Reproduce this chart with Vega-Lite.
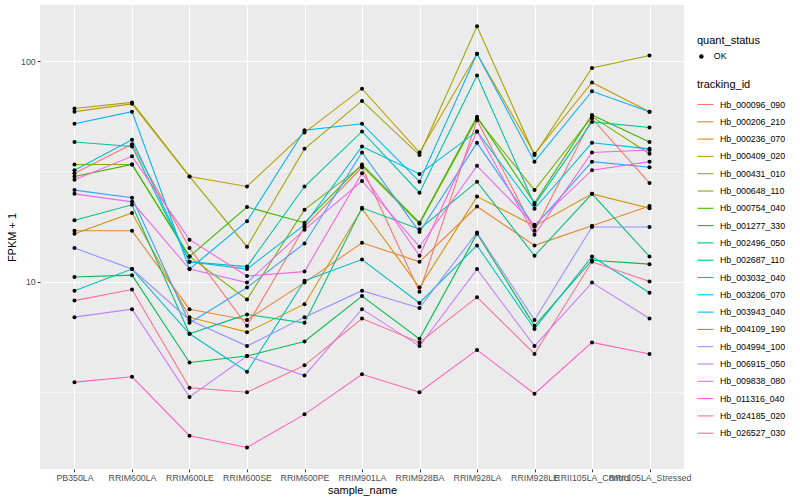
{
  "$schema": "https://vega.github.io/schema/vega-lite/v6.json",
  "width": 644,
  "height": 464,
  "autosize": {"type": "none"},
  "padding": {"left": 40, "top": 5, "right": 116, "bottom": 31},
  "background": "white",
  "config": {
    "font": "Liberation Sans",
    "view": {"fill": "#EBEBEB", "stroke": null},
    "axis": {
      "domain": false,
      "gridColor": "white",
      "tickColor": "#333333",
      "tickSize": 2.75,
      "labelFontSize": 8.8,
      "labelColor": "#4D4D4D",
      "titleFontSize": 11,
      "titleFontWeight": "normal",
      "titleColor": "black"
    },
    "legend": {
      "titleFontSize": 11,
      "titleFontWeight": "normal",
      "titleColor": "black",
      "labelFontSize": 8.8,
      "labelColor": "black"
    }
  },
  "data": {"values": [
{"tracking_id":"Hb_000096_090","sample_name":"PB350LA","FPKM":31,"quant_status":"OK"},
{"tracking_id":"Hb_000096_090","sample_name":"RRIM600LA","FPKM":42,"quant_status":"OK"},
{"tracking_id":"Hb_000096_090","sample_name":"RRIM600LE","FPKM":14.2,"quant_status":"OK"},
{"tracking_id":"Hb_000096_090","sample_name":"RRIM600SE","FPKM":6.3,"quant_status":"OK"},
{"tracking_id":"Hb_000096_090","sample_name":"RRIM600PE","FPKM":17.7,"quant_status":"OK"},
{"tracking_id":"Hb_000096_090","sample_name":"RRIM901LA","FPKM":33,"quant_status":"OK"},
{"tracking_id":"Hb_000096_090","sample_name":"RRIM928BA","FPKM":9.0,"quant_status":"OK"},
{"tracking_id":"Hb_000096_090","sample_name":"RRIM928LA","FPKM":54,"quant_status":"OK"},
{"tracking_id":"Hb_000096_090","sample_name":"RRIM928LE","FPKM":17,"quant_status":"OK"},
{"tracking_id":"Hb_000096_090","sample_name":"RRII105LA_Control","FPKM":55,"quant_status":"OK"},
{"tracking_id":"Hb_000096_090","sample_name":"RRII105LA_Stressed","FPKM":28,"quant_status":"OK"},
{"tracking_id":"Hb_000206_210","sample_name":"PB350LA","FPKM":17,"quant_status":"OK"},
{"tracking_id":"Hb_000206_210","sample_name":"RRIM600LA","FPKM":17,"quant_status":"OK"},
{"tracking_id":"Hb_000206_210","sample_name":"RRIM600LE","FPKM":7.5,"quant_status":"OK"},
{"tracking_id":"Hb_000206_210","sample_name":"RRIM600SE","FPKM":6.7,"quant_status":"OK"},
{"tracking_id":"Hb_000206_210","sample_name":"RRIM600PE","FPKM":9.9,"quant_status":"OK"},
{"tracking_id":"Hb_000206_210","sample_name":"RRIM901LA","FPKM":15,"quant_status":"OK"},
{"tracking_id":"Hb_000206_210","sample_name":"RRIM928BA","FPKM":12.3,"quant_status":"OK"},
{"tracking_id":"Hb_000206_210","sample_name":"RRIM928LA","FPKM":21.9,"quant_status":"OK"},
{"tracking_id":"Hb_000206_210","sample_name":"RRIM928LE","FPKM":14.6,"quant_status":"OK"},
{"tracking_id":"Hb_000206_210","sample_name":"RRII105LA_Control","FPKM":17.9,"quant_status":"OK"},
{"tracking_id":"Hb_000206_210","sample_name":"RRII105LA_Stressed","FPKM":22,"quant_status":"OK"},
{"tracking_id":"Hb_000236_070","sample_name":"PB350LA","FPKM":16.5,"quant_status":"OK"},
{"tracking_id":"Hb_000236_070","sample_name":"RRIM600LA","FPKM":20.5,"quant_status":"OK"},
{"tracking_id":"Hb_000236_070","sample_name":"RRIM600LE","FPKM":6.9,"quant_status":"OK"},
{"tracking_id":"Hb_000236_070","sample_name":"RRIM600SE","FPKM":5.9,"quant_status":"OK"},
{"tracking_id":"Hb_000236_070","sample_name":"RRIM600PE","FPKM":7.9,"quant_status":"OK"},
{"tracking_id":"Hb_000236_070","sample_name":"RRIM901LA","FPKM":21.4,"quant_status":"OK"},
{"tracking_id":"Hb_000236_070","sample_name":"RRIM928BA","FPKM":9.4,"quant_status":"OK"},
{"tracking_id":"Hb_000236_070","sample_name":"RRIM928LA","FPKM":24.3,"quant_status":"OK"},
{"tracking_id":"Hb_000236_070","sample_name":"RRIM928LE","FPKM":17.9,"quant_status":"OK"},
{"tracking_id":"Hb_000236_070","sample_name":"RRII105LA_Control","FPKM":25,"quant_status":"OK"},
{"tracking_id":"Hb_000236_070","sample_name":"RRII105LA_Stressed","FPKM":21.5,"quant_status":"OK"},
{"tracking_id":"Hb_000409_020","sample_name":"PB350LA","FPKM":59,"quant_status":"OK"},
{"tracking_id":"Hb_000409_020","sample_name":"RRIM600LA","FPKM":64,"quant_status":"OK"},
{"tracking_id":"Hb_000409_020","sample_name":"RRIM600LE","FPKM":30,"quant_status":"OK"},
{"tracking_id":"Hb_000409_020","sample_name":"RRIM600SE","FPKM":27,"quant_status":"OK"},
{"tracking_id":"Hb_000409_020","sample_name":"RRIM600PE","FPKM":47.4,"quant_status":"OK"},
{"tracking_id":"Hb_000409_020","sample_name":"RRIM901LA","FPKM":75,"quant_status":"OK"},
{"tracking_id":"Hb_000409_020","sample_name":"RRIM928BA","FPKM":38.5,"quant_status":"OK"},
{"tracking_id":"Hb_000409_020","sample_name":"RRIM928LA","FPKM":108,"quant_status":"OK"},
{"tracking_id":"Hb_000409_020","sample_name":"RRIM928LE","FPKM":38,"quant_status":"OK"},
{"tracking_id":"Hb_000409_020","sample_name":"RRII105LA_Control","FPKM":80,"quant_status":"OK"},
{"tracking_id":"Hb_000409_020","sample_name":"RRII105LA_Stressed","FPKM":59,"quant_status":"OK"},
{"tracking_id":"Hb_000431_010","sample_name":"PB350LA","FPKM":61,"quant_status":"OK"},
{"tracking_id":"Hb_000431_010","sample_name":"RRIM600LA","FPKM":65,"quant_status":"OK"},
{"tracking_id":"Hb_000431_010","sample_name":"RRIM600LE","FPKM":30,"quant_status":"OK"},
{"tracking_id":"Hb_000431_010","sample_name":"RRIM600SE","FPKM":14.4,"quant_status":"OK"},
{"tracking_id":"Hb_000431_010","sample_name":"RRIM600PE","FPKM":40,"quant_status":"OK"},
{"tracking_id":"Hb_000431_010","sample_name":"RRIM901LA","FPKM":66,"quant_status":"OK"},
{"tracking_id":"Hb_000431_010","sample_name":"RRIM928BA","FPKM":37.5,"quant_status":"OK"},
{"tracking_id":"Hb_000431_010","sample_name":"RRIM928LA","FPKM":144,"quant_status":"OK"},
{"tracking_id":"Hb_000431_010","sample_name":"RRIM928LE","FPKM":37.5,"quant_status":"OK"},
{"tracking_id":"Hb_000431_010","sample_name":"RRII105LA_Control","FPKM":93,"quant_status":"OK"},
{"tracking_id":"Hb_000431_010","sample_name":"RRII105LA_Stressed","FPKM":106,"quant_status":"OK"},
{"tracking_id":"Hb_000648_110","sample_name":"PB350LA","FPKM":34,"quant_status":"OK"},
{"tracking_id":"Hb_000648_110","sample_name":"RRIM600LA","FPKM":34,"quant_status":"OK"},
{"tracking_id":"Hb_000648_110","sample_name":"RRIM600LE","FPKM":13,"quant_status":"OK"},
{"tracking_id":"Hb_000648_110","sample_name":"RRIM600SE","FPKM":8.3,"quant_status":"OK"},
{"tracking_id":"Hb_000648_110","sample_name":"RRIM600PE","FPKM":21.2,"quant_status":"OK"},
{"tracking_id":"Hb_000648_110","sample_name":"RRIM901LA","FPKM":33.5,"quant_status":"OK"},
{"tracking_id":"Hb_000648_110","sample_name":"RRIM928BA","FPKM":18.3,"quant_status":"OK"},
{"tracking_id":"Hb_000648_110","sample_name":"RRIM928LA","FPKM":55,"quant_status":"OK"},
{"tracking_id":"Hb_000648_110","sample_name":"RRIM928LE","FPKM":26,"quant_status":"OK"},
{"tracking_id":"Hb_000648_110","sample_name":"RRII105LA_Control","FPKM":56,"quant_status":"OK"},
{"tracking_id":"Hb_000648_110","sample_name":"RRII105LA_Stressed","FPKM":38,"quant_status":"OK"},
{"tracking_id":"Hb_000754_040","sample_name":"PB350LA","FPKM":30,"quant_status":"OK"},
{"tracking_id":"Hb_000754_040","sample_name":"RRIM600LA","FPKM":34,"quant_status":"OK"},
{"tracking_id":"Hb_000754_040","sample_name":"RRIM600LE","FPKM":13,"quant_status":"OK"},
{"tracking_id":"Hb_000754_040","sample_name":"RRIM600SE","FPKM":21.8,"quant_status":"OK"},
{"tracking_id":"Hb_000754_040","sample_name":"RRIM600PE","FPKM":18.5,"quant_status":"OK"},
{"tracking_id":"Hb_000754_040","sample_name":"RRIM901LA","FPKM":34,"quant_status":"OK"},
{"tracking_id":"Hb_000754_040","sample_name":"RRIM928BA","FPKM":18.5,"quant_status":"OK"},
{"tracking_id":"Hb_000754_040","sample_name":"RRIM928LA","FPKM":56,"quant_status":"OK"},
{"tracking_id":"Hb_000754_040","sample_name":"RRIM928LE","FPKM":22.7,"quant_status":"OK"},
{"tracking_id":"Hb_000754_040","sample_name":"RRII105LA_Control","FPKM":57,"quant_status":"OK"},
{"tracking_id":"Hb_000754_040","sample_name":"RRII105LA_Stressed","FPKM":43,"quant_status":"OK"},
{"tracking_id":"Hb_001277_330","sample_name":"PB350LA","FPKM":10.5,"quant_status":"OK"},
{"tracking_id":"Hb_001277_330","sample_name":"RRIM600LA","FPKM":10.7,"quant_status":"OK"},
{"tracking_id":"Hb_001277_330","sample_name":"RRIM600LE","FPKM":4.3,"quant_status":"OK"},
{"tracking_id":"Hb_001277_330","sample_name":"RRIM600SE","FPKM":4.6,"quant_status":"OK"},
{"tracking_id":"Hb_001277_330","sample_name":"RRIM600PE","FPKM":5.35,"quant_status":"OK"},
{"tracking_id":"Hb_001277_330","sample_name":"RRIM901LA","FPKM":8.6,"quant_status":"OK"},
{"tracking_id":"Hb_001277_330","sample_name":"RRIM928BA","FPKM":5.5,"quant_status":"OK"},
{"tracking_id":"Hb_001277_330","sample_name":"RRIM928LA","FPKM":16.5,"quant_status":"OK"},
{"tracking_id":"Hb_001277_330","sample_name":"RRIM928LE","FPKM":6.3,"quant_status":"OK"},
{"tracking_id":"Hb_001277_330","sample_name":"RRII105LA_Control","FPKM":12.5,"quant_status":"OK"},
{"tracking_id":"Hb_001277_330","sample_name":"RRII105LA_Stressed","FPKM":12,"quant_status":"OK"},
{"tracking_id":"Hb_002496_050","sample_name":"PB350LA","FPKM":19,"quant_status":"OK"},
{"tracking_id":"Hb_002496_050","sample_name":"RRIM600LA","FPKM":22.3,"quant_status":"OK"},
{"tracking_id":"Hb_002496_050","sample_name":"RRIM600LE","FPKM":5.8,"quant_status":"OK"},
{"tracking_id":"Hb_002496_050","sample_name":"RRIM600SE","FPKM":7.1,"quant_status":"OK"},
{"tracking_id":"Hb_002496_050","sample_name":"RRIM600PE","FPKM":6.5,"quant_status":"OK"},
{"tracking_id":"Hb_002496_050","sample_name":"RRIM901LA","FPKM":21.6,"quant_status":"OK"},
{"tracking_id":"Hb_002496_050","sample_name":"RRIM928BA","FPKM":17.3,"quant_status":"OK"},
{"tracking_id":"Hb_002496_050","sample_name":"RRIM928LA","FPKM":28.4,"quant_status":"OK"},
{"tracking_id":"Hb_002496_050","sample_name":"RRIM928LE","FPKM":13.1,"quant_status":"OK"},
{"tracking_id":"Hb_002496_050","sample_name":"RRII105LA_Control","FPKM":25,"quant_status":"OK"},
{"tracking_id":"Hb_002496_050","sample_name":"RRII105LA_Stressed","FPKM":13,"quant_status":"OK"},
{"tracking_id":"Hb_002687_110","sample_name":"PB350LA","FPKM":43,"quant_status":"OK"},
{"tracking_id":"Hb_002687_110","sample_name":"RRIM600LA","FPKM":41,"quant_status":"OK"},
{"tracking_id":"Hb_002687_110","sample_name":"RRIM600LE","FPKM":12.3,"quant_status":"OK"},
{"tracking_id":"Hb_002687_110","sample_name":"RRIM600SE","FPKM":11.7,"quant_status":"OK"},
{"tracking_id":"Hb_002687_110","sample_name":"RRIM600PE","FPKM":27,"quant_status":"OK"},
{"tracking_id":"Hb_002687_110","sample_name":"RRIM901LA","FPKM":48,"quant_status":"OK"},
{"tracking_id":"Hb_002687_110","sample_name":"RRIM928BA","FPKM":25.3,"quant_status":"OK"},
{"tracking_id":"Hb_002687_110","sample_name":"RRIM928LA","FPKM":86,"quant_status":"OK"},
{"tracking_id":"Hb_002687_110","sample_name":"RRIM928LE","FPKM":22.3,"quant_status":"OK"},
{"tracking_id":"Hb_002687_110","sample_name":"RRII105LA_Control","FPKM":53,"quant_status":"OK"},
{"tracking_id":"Hb_002687_110","sample_name":"RRII105LA_Stressed","FPKM":50,"quant_status":"OK"},
{"tracking_id":"Hb_003032_040","sample_name":"PB350LA","FPKM":9.1,"quant_status":"OK"},
{"tracking_id":"Hb_003032_040","sample_name":"RRIM600LA","FPKM":11.4,"quant_status":"OK"},
{"tracking_id":"Hb_003032_040","sample_name":"RRIM600LE","FPKM":5.8,"quant_status":"OK"},
{"tracking_id":"Hb_003032_040","sample_name":"RRIM600SE","FPKM":3.9,"quant_status":"OK"},
{"tracking_id":"Hb_003032_040","sample_name":"RRIM600PE","FPKM":10.1,"quant_status":"OK"},
{"tracking_id":"Hb_003032_040","sample_name":"RRIM901LA","FPKM":12.6,"quant_status":"OK"},
{"tracking_id":"Hb_003032_040","sample_name":"RRIM928BA","FPKM":8.0,"quant_status":"OK"},
{"tracking_id":"Hb_003032_040","sample_name":"RRIM928LA","FPKM":14.6,"quant_status":"OK"},
{"tracking_id":"Hb_003032_040","sample_name":"RRIM928LE","FPKM":6.1,"quant_status":"OK"},
{"tracking_id":"Hb_003032_040","sample_name":"RRII105LA_Control","FPKM":13,"quant_status":"OK"},
{"tracking_id":"Hb_003032_040","sample_name":"RRII105LA_Stressed","FPKM":8.9,"quant_status":"OK"},
{"tracking_id":"Hb_003206_070","sample_name":"PB350LA","FPKM":32,"quant_status":"OK"},
{"tracking_id":"Hb_003206_070","sample_name":"RRIM600LA","FPKM":44,"quant_status":"OK"},
{"tracking_id":"Hb_003206_070","sample_name":"RRIM600LE","FPKM":12.3,"quant_status":"OK"},
{"tracking_id":"Hb_003206_070","sample_name":"RRIM600SE","FPKM":11.4,"quant_status":"OK"},
{"tracking_id":"Hb_003206_070","sample_name":"RRIM600PE","FPKM":18.1,"quant_status":"OK"},
{"tracking_id":"Hb_003206_070","sample_name":"RRIM901LA","FPKM":41,"quant_status":"OK"},
{"tracking_id":"Hb_003206_070","sample_name":"RRIM928BA","FPKM":30.8,"quant_status":"OK"},
{"tracking_id":"Hb_003206_070","sample_name":"RRIM928LA","FPKM":48,"quant_status":"OK"},
{"tracking_id":"Hb_003206_070","sample_name":"RRIM928LE","FPKM":21.4,"quant_status":"OK"},
{"tracking_id":"Hb_003206_070","sample_name":"RRII105LA_Control","FPKM":42.6,"quant_status":"OK"},
{"tracking_id":"Hb_003206_070","sample_name":"RRII105LA_Stressed","FPKM":40,"quant_status":"OK"},
{"tracking_id":"Hb_003943_040","sample_name":"PB350LA","FPKM":52,"quant_status":"OK"},
{"tracking_id":"Hb_003943_040","sample_name":"RRIM600LA","FPKM":59,"quant_status":"OK"},
{"tracking_id":"Hb_003943_040","sample_name":"RRIM600LE","FPKM":11.4,"quant_status":"OK"},
{"tracking_id":"Hb_003943_040","sample_name":"RRIM600SE","FPKM":18.8,"quant_status":"OK"},
{"tracking_id":"Hb_003943_040","sample_name":"RRIM600PE","FPKM":48.6,"quant_status":"OK"},
{"tracking_id":"Hb_003943_040","sample_name":"RRIM901LA","FPKM":52,"quant_status":"OK"},
{"tracking_id":"Hb_003943_040","sample_name":"RRIM928BA","FPKM":28.4,"quant_status":"OK"},
{"tracking_id":"Hb_003943_040","sample_name":"RRIM928LA","FPKM":108,"quant_status":"OK"},
{"tracking_id":"Hb_003943_040","sample_name":"RRIM928LE","FPKM":35,"quant_status":"OK"},
{"tracking_id":"Hb_003943_040","sample_name":"RRII105LA_Control","FPKM":73,"quant_status":"OK"},
{"tracking_id":"Hb_003943_040","sample_name":"RRII105LA_Stressed","FPKM":59,"quant_status":"OK"},
{"tracking_id":"Hb_004109_190","sample_name":"PB350LA","FPKM":26,"quant_status":"OK"},
{"tracking_id":"Hb_004109_190","sample_name":"RRIM600LA","FPKM":24,"quant_status":"OK"},
{"tracking_id":"Hb_004109_190","sample_name":"RRIM600LE","FPKM":6.5,"quant_status":"OK"},
{"tracking_id":"Hb_004109_190","sample_name":"RRIM600SE","FPKM":9.4,"quant_status":"OK"},
{"tracking_id":"Hb_004109_190","sample_name":"RRIM600PE","FPKM":14.9,"quant_status":"OK"},
{"tracking_id":"Hb_004109_190","sample_name":"RRIM901LA","FPKM":38.5,"quant_status":"OK"},
{"tracking_id":"Hb_004109_190","sample_name":"RRIM928BA","FPKM":16.8,"quant_status":"OK"},
{"tracking_id":"Hb_004109_190","sample_name":"RRIM928LA","FPKM":42.6,"quant_status":"OK"},
{"tracking_id":"Hb_004109_190","sample_name":"RRIM928LE","FPKM":17.8,"quant_status":"OK"},
{"tracking_id":"Hb_004109_190","sample_name":"RRII105LA_Control","FPKM":35,"quant_status":"OK"},
{"tracking_id":"Hb_004109_190","sample_name":"RRII105LA_Stressed","FPKM":33,"quant_status":"OK"},
{"tracking_id":"Hb_004994_100","sample_name":"PB350LA","FPKM":14.2,"quant_status":"OK"},
{"tracking_id":"Hb_004994_100","sample_name":"RRIM600LA","FPKM":11.4,"quant_status":"OK"},
{"tracking_id":"Hb_004994_100","sample_name":"RRIM600LE","FPKM":6.7,"quant_status":"OK"},
{"tracking_id":"Hb_004994_100","sample_name":"RRIM600SE","FPKM":5.1,"quant_status":"OK"},
{"tracking_id":"Hb_004994_100","sample_name":"RRIM600PE","FPKM":6.9,"quant_status":"OK"},
{"tracking_id":"Hb_004994_100","sample_name":"RRIM901LA","FPKM":9.1,"quant_status":"OK"},
{"tracking_id":"Hb_004994_100","sample_name":"RRIM928BA","FPKM":7.6,"quant_status":"OK"},
{"tracking_id":"Hb_004994_100","sample_name":"RRIM928LA","FPKM":16.7,"quant_status":"OK"},
{"tracking_id":"Hb_004994_100","sample_name":"RRIM928LE","FPKM":6.7,"quant_status":"OK"},
{"tracking_id":"Hb_004994_100","sample_name":"RRII105LA_Control","FPKM":17.7,"quant_status":"OK"},
{"tracking_id":"Hb_004994_100","sample_name":"RRII105LA_Stressed","FPKM":17.7,"quant_status":"OK"},
{"tracking_id":"Hb_006915_050","sample_name":"PB350LA","FPKM":6.9,"quant_status":"OK"},
{"tracking_id":"Hb_006915_050","sample_name":"RRIM600LA","FPKM":7.5,"quant_status":"OK"},
{"tracking_id":"Hb_006915_050","sample_name":"RRIM600LE","FPKM":3.0,"quant_status":"OK"},
{"tracking_id":"Hb_006915_050","sample_name":"RRIM600SE","FPKM":4.6,"quant_status":"OK"},
{"tracking_id":"Hb_006915_050","sample_name":"RRIM600PE","FPKM":3.75,"quant_status":"OK"},
{"tracking_id":"Hb_006915_050","sample_name":"RRIM901LA","FPKM":7.5,"quant_status":"OK"},
{"tracking_id":"Hb_006915_050","sample_name":"RRIM928BA","FPKM":5.1,"quant_status":"OK"},
{"tracking_id":"Hb_006915_050","sample_name":"RRIM928LA","FPKM":11.4,"quant_status":"OK"},
{"tracking_id":"Hb_006915_050","sample_name":"RRIM928LE","FPKM":5.1,"quant_status":"OK"},
{"tracking_id":"Hb_006915_050","sample_name":"RRII105LA_Control","FPKM":9.9,"quant_status":"OK"},
{"tracking_id":"Hb_006915_050","sample_name":"RRII105LA_Stressed","FPKM":6.8,"quant_status":"OK"},
{"tracking_id":"Hb_009838_080","sample_name":"PB350LA","FPKM":25,"quant_status":"OK"},
{"tracking_id":"Hb_009838_080","sample_name":"RRIM600LA","FPKM":23,"quant_status":"OK"},
{"tracking_id":"Hb_009838_080","sample_name":"RRIM600LE","FPKM":11.4,"quant_status":"OK"},
{"tracking_id":"Hb_009838_080","sample_name":"RRIM600SE","FPKM":9.9,"quant_status":"OK"},
{"tracking_id":"Hb_009838_080","sample_name":"RRIM600PE","FPKM":17.2,"quant_status":"OK"},
{"tracking_id":"Hb_009838_080","sample_name":"RRIM901LA","FPKM":28.6,"quant_status":"OK"},
{"tracking_id":"Hb_009838_080","sample_name":"RRIM928BA","FPKM":14.4,"quant_status":"OK"},
{"tracking_id":"Hb_009838_080","sample_name":"RRIM928LA","FPKM":33.5,"quant_status":"OK"},
{"tracking_id":"Hb_009838_080","sample_name":"RRIM928LE","FPKM":18.1,"quant_status":"OK"},
{"tracking_id":"Hb_009838_080","sample_name":"RRII105LA_Control","FPKM":32,"quant_status":"OK"},
{"tracking_id":"Hb_009838_080","sample_name":"RRII105LA_Stressed","FPKM":35,"quant_status":"OK"},
{"tracking_id":"Hb_011316_040","sample_name":"PB350LA","FPKM":29,"quant_status":"OK"},
{"tracking_id":"Hb_011316_040","sample_name":"RRIM600LA","FPKM":37,"quant_status":"OK"},
{"tracking_id":"Hb_011316_040","sample_name":"RRIM600LE","FPKM":15.5,"quant_status":"OK"},
{"tracking_id":"Hb_011316_040","sample_name":"RRIM600SE","FPKM":10.6,"quant_status":"OK"},
{"tracking_id":"Hb_011316_040","sample_name":"RRIM600PE","FPKM":11.1,"quant_status":"OK"},
{"tracking_id":"Hb_011316_040","sample_name":"RRIM901LA","FPKM":31,"quant_status":"OK"},
{"tracking_id":"Hb_011316_040","sample_name":"RRIM928BA","FPKM":13.1,"quant_status":"OK"},
{"tracking_id":"Hb_011316_040","sample_name":"RRIM928LA","FPKM":48,"quant_status":"OK"},
{"tracking_id":"Hb_011316_040","sample_name":"RRIM928LE","FPKM":16.3,"quant_status":"OK"},
{"tracking_id":"Hb_011316_040","sample_name":"RRII105LA_Control","FPKM":38.5,"quant_status":"OK"},
{"tracking_id":"Hb_011316_040","sample_name":"RRII105LA_Stressed","FPKM":39.5,"quant_status":"OK"},
{"tracking_id":"Hb_024185_020","sample_name":"PB350LA","FPKM":3.5,"quant_status":"OK"},
{"tracking_id":"Hb_024185_020","sample_name":"RRIM600LA","FPKM":3.7,"quant_status":"OK"},
{"tracking_id":"Hb_024185_020","sample_name":"RRIM600LE","FPKM":2.0,"quant_status":"OK"},
{"tracking_id":"Hb_024185_020","sample_name":"RRIM600SE","FPKM":1.77,"quant_status":"OK"},
{"tracking_id":"Hb_024185_020","sample_name":"RRIM600PE","FPKM":2.5,"quant_status":"OK"},
{"tracking_id":"Hb_024185_020","sample_name":"RRIM901LA","FPKM":3.8,"quant_status":"OK"},
{"tracking_id":"Hb_024185_020","sample_name":"RRIM928BA","FPKM":3.15,"quant_status":"OK"},
{"tracking_id":"Hb_024185_020","sample_name":"RRIM928LA","FPKM":4.9,"quant_status":"OK"},
{"tracking_id":"Hb_024185_020","sample_name":"RRIM928LE","FPKM":3.1,"quant_status":"OK"},
{"tracking_id":"Hb_024185_020","sample_name":"RRII105LA_Control","FPKM":5.3,"quant_status":"OK"},
{"tracking_id":"Hb_024185_020","sample_name":"RRII105LA_Stressed","FPKM":4.7,"quant_status":"OK"},
{"tracking_id":"Hb_026527_030","sample_name":"PB350LA","FPKM":8.2,"quant_status":"OK"},
{"tracking_id":"Hb_026527_030","sample_name":"RRIM600LA","FPKM":9.2,"quant_status":"OK"},
{"tracking_id":"Hb_026527_030","sample_name":"RRIM600LE","FPKM":3.3,"quant_status":"OK"},
{"tracking_id":"Hb_026527_030","sample_name":"RRIM600SE","FPKM":3.15,"quant_status":"OK"},
{"tracking_id":"Hb_026527_030","sample_name":"RRIM600PE","FPKM":4.17,"quant_status":"OK"},
{"tracking_id":"Hb_026527_030","sample_name":"RRIM901LA","FPKM":6.8,"quant_status":"OK"},
{"tracking_id":"Hb_026527_030","sample_name":"RRIM928BA","FPKM":5.3,"quant_status":"OK"},
{"tracking_id":"Hb_026527_030","sample_name":"RRIM928LA","FPKM":8.5,"quant_status":"OK"},
{"tracking_id":"Hb_026527_030","sample_name":"RRIM928LE","FPKM":4.7,"quant_status":"OK"},
{"tracking_id":"Hb_026527_030","sample_name":"RRII105LA_Control","FPKM":12.3,"quant_status":"OK"},
{"tracking_id":"Hb_026527_030","sample_name":"RRII105LA_Stressed","FPKM":10,"quant_status":"OK"}
  ]},
  "encoding": {
    "x": {
      "field": "sample_name",
      "type": "nominal",
      "sort": ["PB350LA","RRIM600LA","RRIM600LE","RRIM600SE","RRIM600PE","RRIM901LA","RRIM928BA","RRIM928LA","RRIM928LE","RRII105LA_Control","RRII105LA_Stressed"],
      "scale": {"type": "point", "padding": 0.6},
      "axis": {
        "title": "sample_name",
        "labelAngle": 0,
        "labelOverlap": false,
        "labelBound": false,
        "labelLimit": 0,
        "labelPadding": 2,
        "titlePadding": 2,
        "grid": true,
        "gridWidth": 1.07
      }
    },
    "y": {
      "field": "FPKM",
      "type": "quantitative",
      "scale": {"type": "log", "domain": [1.413, 179.7], "nice": false},
      "axis": {
        "title": "FPKM + 1",
        "values": [3.1623, 10, 31.623, 100],
        "labelExpr": "datum.value == 10 ? '10' : (datum.value == 100 ? '100' : '')",
        "grid": true,
        "gridWidth": {"condition": {"test": "datum.value == 10 || datum.value == 100", "value": 1.07}, "value": 0.53},
        "tickOpacity": {"condition": {"test": "datum.value == 10 || datum.value == 100", "value": 1}, "value": 0},
        "labelPadding": 2,
        "titlePadding": 3
      }
    }
  },
  "layer": [
    {
      "mark": {"type": "line", "strokeWidth": 1.07},
      "encoding": {
        "color": {
          "field": "tracking_id",
          "type": "nominal",
          "scale": {
            "domain": ["Hb_000096_090","Hb_000206_210","Hb_000236_070","Hb_000409_020","Hb_000431_010","Hb_000648_110","Hb_000754_040","Hb_001277_330","Hb_002496_050","Hb_002687_110","Hb_003032_040","Hb_003206_070","Hb_003943_040","Hb_004109_190","Hb_004994_100","Hb_006915_050","Hb_009838_080","Hb_011316_040","Hb_024185_020","Hb_026527_030"],
            "range": ["#F8766D","#EA8331","#D89000","#C09B00","#A3A500","#7CAE00","#39B600","#00BB4E","#00BF7D","#00C1A3","#00BFC4","#00BAE0","#00B0F6","#35A2FF","#9590FF","#C77CFF","#E76BF3","#FA62DB","#FF62BC","#FF6C91"]
          },
          "legend": {
            "title": "tracking_id",
            "orient": "none",
            "legendX": 657,
            "legendY": 74,
            "symbolType": "stroke",
            "symbolStrokeWidth": 1.1,
            "symbolSize": 250,
            "rowPadding": 3.3,
            "labelOffset": 6,
            "titlePadding": 6
          }
        }
      }
    },
    {
      "mark": {"type": "point", "filled": true, "color": "black", "size": 16, "opacity": 1},
      "encoding": {
        "shape": {
          "field": "quant_status",
          "type": "nominal",
          "scale": {"domain": ["OK"], "range": ["circle"]},
          "legend": {
            "title": "quant_status",
            "orient": "none",
            "legendX": 657,
            "legendY": 30,
            "symbolFillColor": "black",
            "symbolStrokeColor": "black",
            "symbolSize": 20,
            "labelOffset": 8,
            "titlePadding": 6
          }
        }
      }
    }
  ]
}
